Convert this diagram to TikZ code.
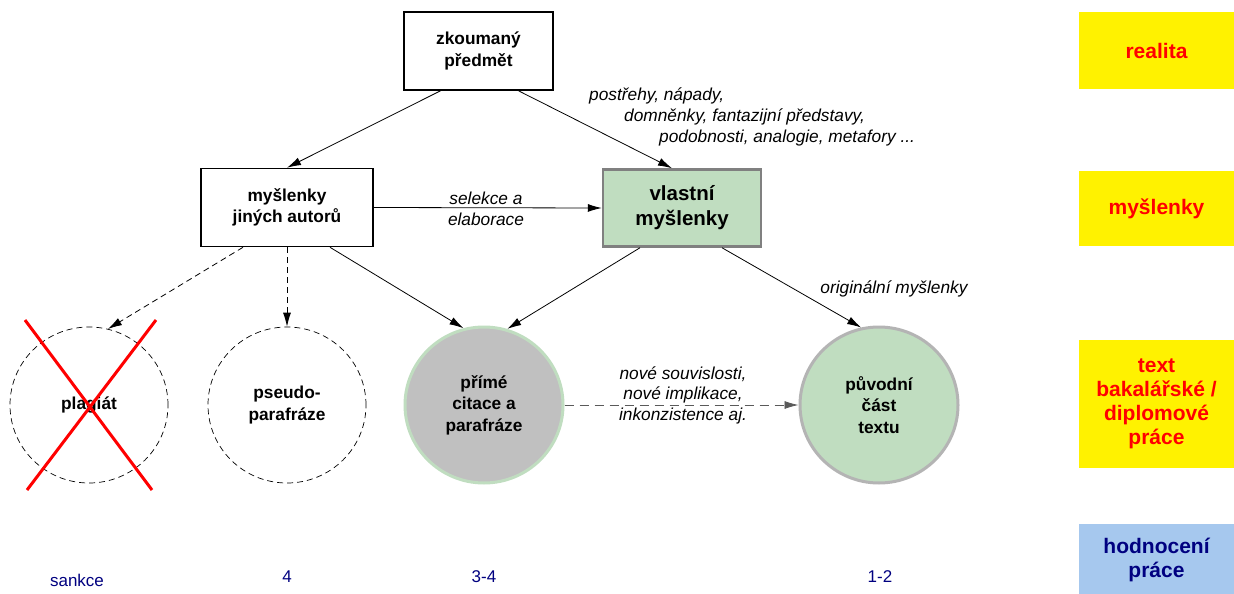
\documentclass[tikz,border=0pt]{standalone}
\usepackage{fontspec}
\setmainfont{Liberation Sans}
\usetikzlibrary{arrows.meta,shapes.geometric,calc}
\definecolor{lgreen}{RGB}{192,221,192}
\definecolor{lgray}{RGB}{192,192,192}
\definecolor{bordergray}{RGB}{128,128,128}
\definecolor{bordergray2}{RGB}{180,180,180}
\definecolor{navyc}{RGB}{0,0,128}
\definecolor{lblue}{RGB}{166,200,238}
\definecolor{dashgray}{RGB}{90,90,90}
\tikzset{
  boxnode/.style={draw=black,line width=1.6pt,minimum width=149pt,minimum height=78pt,inner sep=0pt,align=center,font=\fontsize{17.3}{21.5}\selectfont\bfseries},
  ellnode/.style={ellipse,minimum width=158pt,minimum height=156pt,inner sep=0pt,align=center,font=\fontsize{17.3}{21.5}\selectfont\bfseries},
  arr/.style={line width=0.8pt,-{Latex[length=14pt,width=8pt]}},
  lab/.style={font=\fontsize{17.3}{20.5}\selectfont\itshape,inner sep=0pt},
  sidebox/.style={fill=yellow,minimum width=155pt,inner sep=0pt,align=center,text=red,font=\fontsize{21}{24}\selectfont\bfseries},
  bottomlab/.style={text=navyc,font=\fontsize{17}{20}\selectfont,inner sep=0pt}
}
\begin{document}
\begin{tikzpicture}[x=1pt,y=-1pt]
\useasboundingbox[fill=white] (0,0) rectangle (1234,594);
% boxes
\node[boxnode] (zp) at (478.5,51) {zkoumaný\\předmět};
\node[boxnode,minimum width=172pt] (jin) at (287,207.5) {myšlenky\\jiných autorů};
\node[boxnode,fill=lgreen,draw=bordergray,line width=2.5pt,minimum width=158pt,minimum height=77pt,font=\fontsize{20.5}{25}\selectfont\bfseries] (vl) at (682,208) {vlastní\\myšlenky};
% ellipses
\node[ellnode,draw=black,dashed,line width=0.7pt,dash pattern=on 6pt off 4pt] (pl) at (89,405) {plagiát};
\node[ellnode,draw=black,dashed,line width=0.7pt,dash pattern=on 6pt off 4pt] (ps) at (287,405) {pseudo-\\parafráze};
\node[ellnode,fill=lgray,draw=lgreen,line width=3pt] (pc) at (484,405) {přímé\\citace a\\parafráze};
\node[ellnode,fill=lgreen,draw=bordergray2,line width=3pt] (po) at (879,405) {původní\\část\\textu};
% red cross
\draw[red,line width=3pt] (25,320) -- (152,490);
\draw[red,line width=3pt] (156,320) -- (27,490);
% connectors
\draw[arr] ($(zp.south)+(-38,0)$) -- (jin.north);
\draw[arr] ($(zp.south)+(40,0)$) -- ($(vl.north)+(-10,0)$);
\draw[arr] (jin.east) -- (vl.west);
\draw[arr,dash pattern=on 6pt off 4pt] ($(jin.south)+(-44,0)$) -- (pl.76);
\draw[arr,dash pattern=on 6pt off 4pt] (jin.south) -- (ps.north);
\draw[arr] ($(jin.south)+(43,0)$) -- (pc.105);
\draw[arr] ($(vl.south)+(-42,0)$) -- (pc.73);
\draw[arr] ($(vl.south)+(40,0)$) -- (po.103);
\draw[arr,draw=dashgray,dash pattern=on 9pt off 6pt] (pc.east) -- (po.west);
% labels
\node[lab,align=center] (lsel) at (486,209) {selekce a\\elaborace};
\node[lab] (lorig) at (894,289) {originální myšlenky};
\node[lab,align=center] (lnove) at (683,395) {nové souvislosti,\\nové implikace,\\inkonzistence aj.};
\node[lab,align=left,anchor=north west,font=\fontsize{17.3}{21}\selectfont\itshape] (lpost) at (589,88) {postřehy, nápady,\\\hspace*{35pt}domněnky, fantazijní představy,\\\hspace*{70pt}podobnosti, analogie, metafory ...};
% side column
\node[sidebox,minimum height=77pt] (s1) at (1156.5,50.5) {realita};
\node[sidebox,minimum height=75pt] (s2) at (1156.5,208.5) {myšlenky};
\node[sidebox,minimum height=128pt] (s3) at (1156.5,404) {text\\bakalářské /\\diplomové\\práce};
\node[sidebox,fill=lblue,text=navyc,minimum height=72pt] (s4) at (1156.5,560) {hodnocení\\práce};
% bottom labels
\node[bottomlab] (b1) at (77,580) {sankce};
\node[bottomlab] (b2) at (287,577) {4};
\node[bottomlab] (b3) at (484,577) {3-4};
\node[bottomlab] (b4) at (880,577) {1-2};
\end{tikzpicture}
\end{document}
